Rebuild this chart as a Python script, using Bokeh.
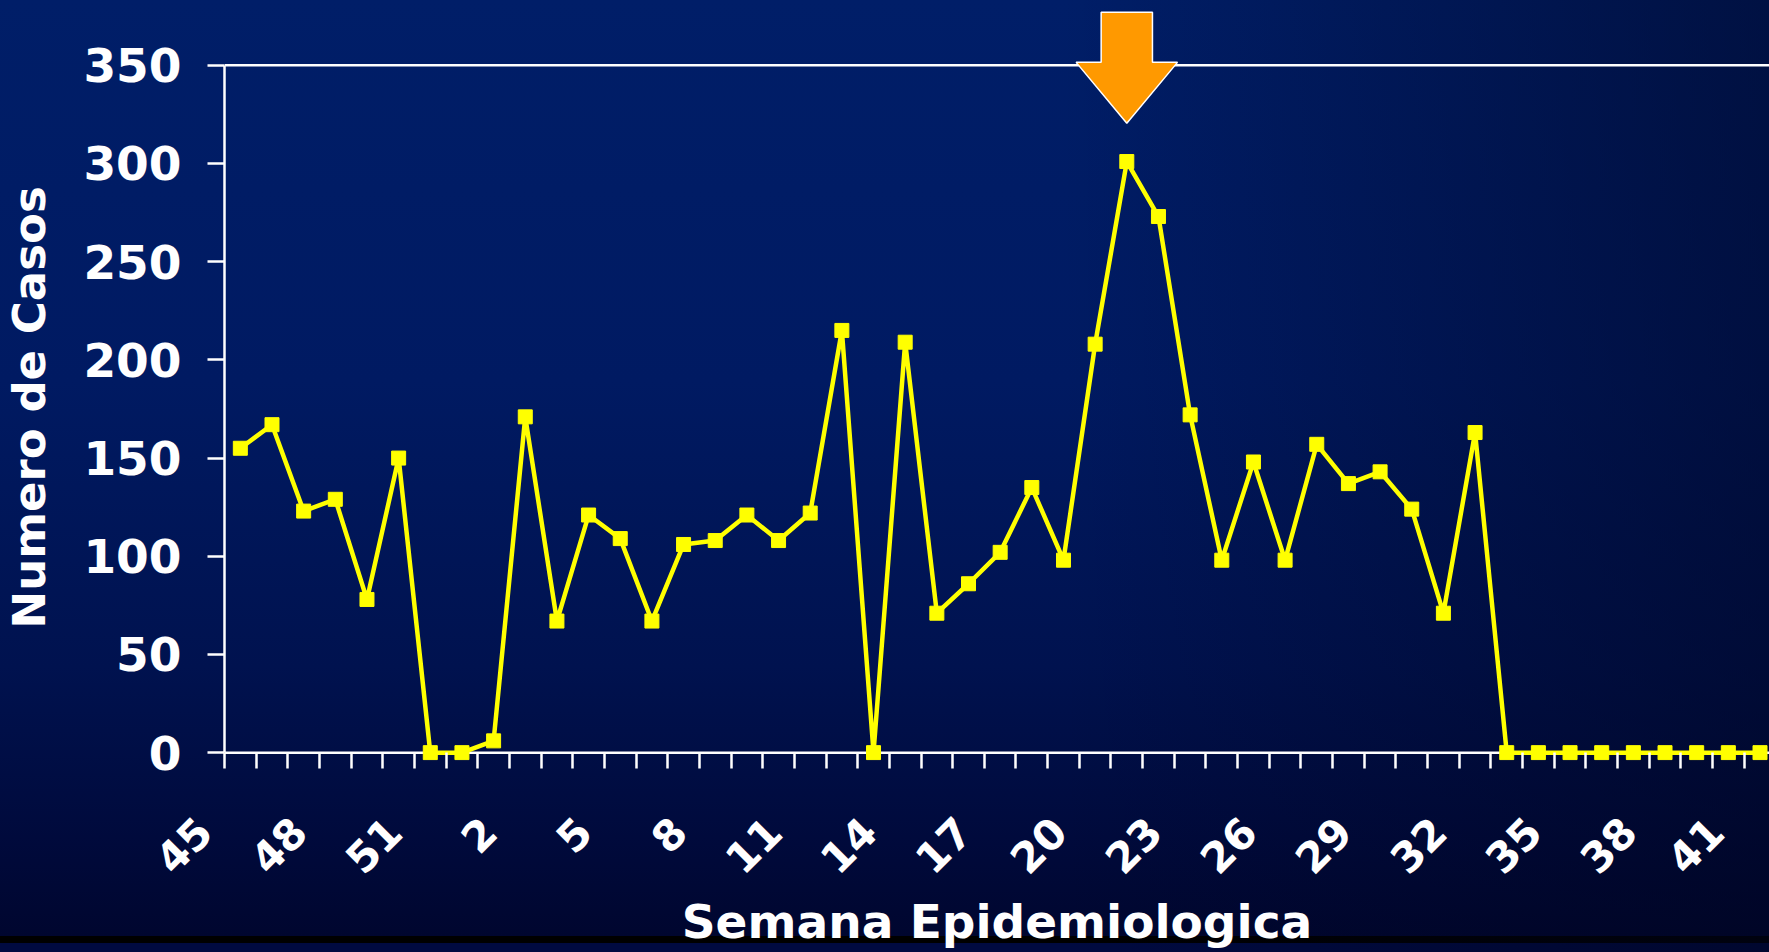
import math
from bokeh.plotting import figure
from bokeh.models import FixedTicker, Range1d, Span, GlobalInlineStyleSheet
from bokeh.embed import file_html
from bokeh.resources import INLINE

# ---- data -------------------------------------------------------------
weeks = ["45", "46", "47", "48", "49", "50", "51", "52",
         "1", "2", "3", "4", "5", "6", "7", "8", "9", "10",
         "11", "12", "13", "14", "15", "16", "17", "18", "19", "20",
         "21", "22", "23", "24", "25", "26", "27", "28", "29", "30",
         "31", "32", "33", "34", "35", "36", "37", "38", "39", "40", "41"]
cases = [155, 167, 123, 129, 78, 150, 0, 0, 6, 171,
         67, 121, 109, 67, 106, 108, 121, 108, 122, 215,
         0, 209, 71, 86, 102, 135, 98, 208, 301, 273,
         172, 98, 148, 98, 157, 137, 143, 124, 71, 163,
         0, 0, 0, 0, 0, 0, 0, 0, 0]
y_ticks = [0, 50, 100, 150, 200, 250, 300, 350]
label_every = 3
x_title = "Semana Epidemiologica"
y_title = "Numero de Casos"

# ---- figure -----------------------------------------------------------
n = len(cases)
xs = list(range(n))
FONT = "DejaVu Sans"
WHITE = "white"

p = figure(width=1769, height=952, output_backend="svg", toolbar_location=None,
           x_range=Range1d(-0.5, 48.3), y_range=Range1d(-4, 383),
           min_border_left=222, min_border_right=0, min_border_top=0,
           min_border_bottom=192)
p.background_fill_color = None
p.border_fill_color = None
p.outline_line_color = None
p.grid.visible = False
p.styles = {"background": (
    "linear-gradient(to right, rgba(0,4,30,0) 0%, rgba(0,4,30,0) 60%, rgba(0,4,30,0.5) 100%),"
    "linear-gradient(to bottom, #001e68 0%, #001a62 40%, #00124f 70%, #000a3c 88%, "
    "#00062f 98.3%, #000000 98.3%, #000000 99.05%, #000a40 99.05%)")}
p.stylesheets = [GlobalInlineStyleSheet(
    css="html, body { margin: 0; padding: 0; background: #000b3e; overflow: hidden; }")]

# y axis
yax = p.yaxis[0]
yax.ticker = FixedTicker(ticks=y_ticks, minor_ticks=[])
yax.bounds = (0, y_ticks[-1])
yax.axis_line_color = WHITE
yax.axis_line_width = 2.5
yax.major_tick_line_color = WHITE
yax.major_tick_line_width = 2.5
yax.major_tick_out = 17
yax.major_tick_in = 0
yax.minor_tick_out = 0
yax.minor_tick_in = 0
yax.major_label_text_font = FONT
yax.major_label_text_font_style = "bold"
yax.major_label_text_font_size = "47px"
yax.major_label_text_color = WHITE
yax.major_label_standoff = 26
yax.axis_label = y_title + "\u00a0\u00a0\u2002"
yax.axis_label_text_font = FONT
yax.axis_label_text_font_style = "bold"
yax.axis_label_text_font_size = "45px"
yax.axis_label_text_color = WHITE
yax.axis_label_standoff = 24

# x axis (its own line is replaced by a rule at y = 0)
label_idx = list(range(0, n, label_every))
xax = p.xaxis[0]
xax.ticker = FixedTicker(ticks=label_idx, minor_ticks=[i - 0.5 for i in range(n + 1)])
xax.major_label_overrides = {i: weeks[i] + "\u00a0\u00a0\u2002" for i in label_idx}
xax.axis_line_color = None
xax.major_tick_out = 0
xax.major_tick_in = 0
xax.major_tick_line_color = None
xax.minor_tick_out = 8
xax.minor_tick_in = 8
xax.minor_tick_line_color = WHITE
xax.minor_tick_line_width = 2.5
xax.major_label_orientation = math.pi / 4
xax.major_label_text_font = FONT
xax.major_label_text_font_style = "bold"
xax.major_label_text_font_size = "42px"
xax.major_label_text_color = WHITE
xax.major_label_standoff = 21
xax.axis_label = x_title
xax.axis_label_text_font = FONT
xax.axis_label_text_font_style = "bold"
xax.axis_label_text_font_size = "47px"
xax.axis_label_text_color = WHITE
xax.axis_label_standoff = -10

# rules: category axis at 0 and the top line at 350
p.add_layout(Span(location=y_ticks[0], dimension="width", line_color=WHITE,
                  line_width=2.5, level="underlay"))
p.add_layout(Span(location=y_ticks[-1], dimension="width", line_color=WHITE,
                  line_width=2.5, level="underlay"))

# series
p.line(xs, cases, line_color="#ffff00", line_width=4.5)
p.scatter(xs, cases, marker="square", size=14, fill_color="#ffff00", line_color="#ffff00")

# arrow pointing at the peak
peak = max(range(n), key=lambda i: cases[i])
ax = [peak - 0.81, peak + 0.81, peak + 0.81, peak + 1.6, peak, peak - 1.6, peak - 0.81]
ay = [377, 377, 351.5, 351.5, cases[peak] + 19.5, 351.5, 351.5]
p.patch(ax, ay, fill_color="#ff9900", line_color=WHITE, line_width=1.5)

open("out.html", "w").write(file_html(p, INLINE))
